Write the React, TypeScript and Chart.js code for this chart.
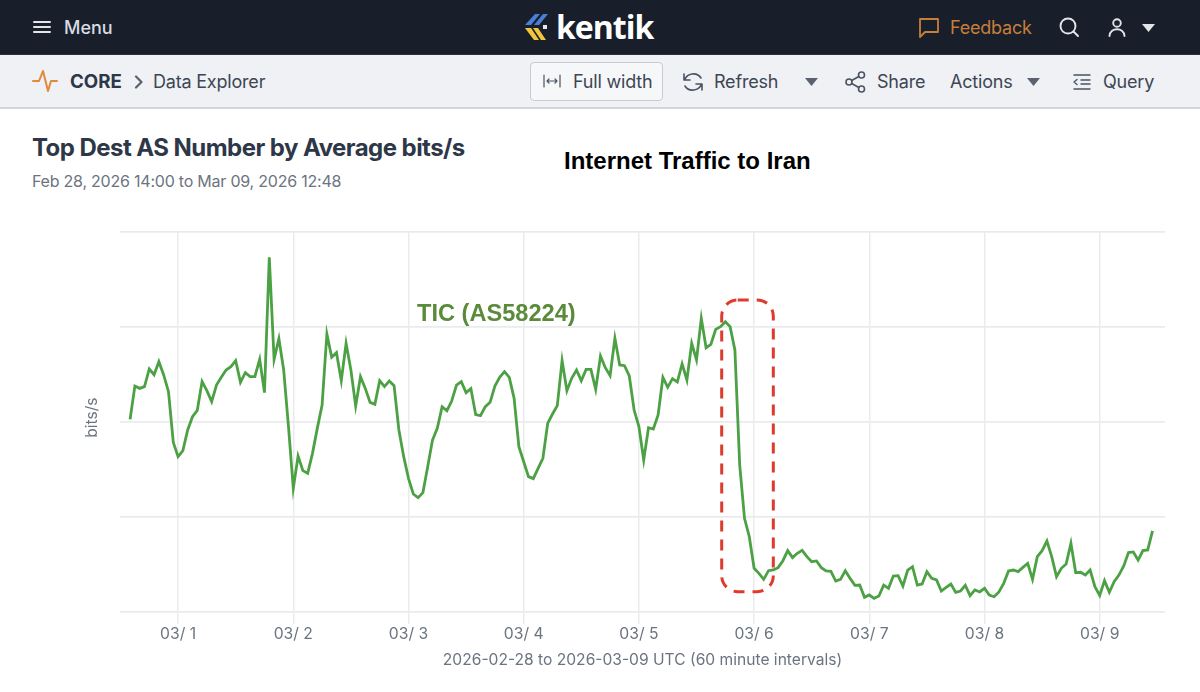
import React, { useEffect, useRef } from "react";
import { Chart, registerables } from "chart.js";

Chart.register(...registerables);

// hourly samples, first one at Feb 28 14:00 (10 hours before 03/ 1). the y axis has no
// labels in the screenshot so these are in grid units: one grid step = 100
const firstHour = -10;
const trafficValues = [
  202.8, 237.9, 235.4, 237.2, 255.8, 249.8, 263.5, 249.5, 231.9, 178.6,
  163.5, 169.8, 191.6, 205.6, 212.3, 242.5, 233, 221.4, 238.9, 247,
  254.7, 258.2, 264.6, 241.8, 251.9, 247.7, 247.7, 266, 230.9, 373.3,
  266, 287.7, 254.7, 195.1, 130.2, 164.2, 148.8, 146, 167, 193.3,
  217.9, 292.6, 268.1, 273, 243.5, 282.8, 254.7, 216.8, 247.7, 235.4,
  220.7, 218.6, 243.5, 237.2, 243.2, 238.2, 191.6, 163.5, 140.7, 124.2,
  120.4, 125.6, 153, 181, 193.3, 216.1, 211.9, 222.1, 238.9, 242.5,
  230.9, 235.1, 207.7, 206.7, 216.1, 220.7, 237.9, 247, 253, 247,
  224.9, 174, 158.2, 142.5, 140.4, 151.2, 161.8, 198.6, 208.4, 217.2,
  264.6, 233, 246, 254.7, 243.5, 255.4, 255.4, 234.4, 269.5, 257.2,
  248.8, 288.1, 260, 259.3, 248.4, 212.6, 195.1, 160, 194, 192.6,
  207.4, 247, 236.5, 245.6, 242.1, 261.1, 244.2, 282.8, 265.3, 309.1,
  278.2, 281.8, 297.5, 300.4, 305.6, 300.4, 275.8, 154.7, 98.6, 79.3,
  46, 40.7, 34.4, 43.5, 44.2, 46.7, 54, 64.6, 57.2, 61.8,
  64.9, 58.2, 53, 53.7, 46.7, 43.2, 42.8, 32.6, 34.4, 43.5,
  35.4, 28.1, 28.4, 15.4, 17.9, 14.4, 16.8, 28.4, 24.9, 37.9,
  38.2, 27.4, 44.2, 47.7, 28.4, 29.5, 42.5, 35.4, 33.7, 22.1,
  26, 29.5, 20.7, 22.1, 28.1, 17.2, 23.2, 21.1, 24.9, 17.9,
  16.1, 21.1, 30.2, 43.2, 44.2, 42.5, 47, 51.2, 34.4, 58.2,
  64.6, 74.7, 58.2, 37.2, 46, 50.5, 72.3, 41.4, 41.8, 38.9,
  44.2, 26.7, 17.5, 33, 20.7, 31.9, 38.9, 48.4, 62.5, 63.2,
  54.7, 64.6, 65.3, 85.3,
];
const tickHours = [0, 24, 48, 72, 96, 120, 144, 168, 192];
const tickLabels = ["03/ 1", "03/ 2", "03/ 3", "03/ 4", "03/ 5", "03/ 6", "03/ 7", "03/ 8", "03/ 9"];

const GREEN = "#4ca144";
const GRID = "#eaebed";
const UI_FONT = "Inter";

// red dashed box around the drop, in scale units
const highlightBox = { fromHour: 113.25, toHour: 124, top: 328.4, bottom: 21.4 };

const highlightPlugin = {
  id: "highlight",
  afterDatasetsDraw(chart: any) {
    const { ctx, scales } = chart;
    const x1 = scales.x.getPixelForValue(highlightBox.fromHour);
    const x2 = scales.x.getPixelForValue(highlightBox.toHour);
    const y1 = scales.y.getPixelForValue(highlightBox.top);
    const y2 = scales.y.getPixelForValue(highlightBox.bottom);
    ctx.save();
    ctx.strokeStyle = "#de3b2e";
    ctx.lineWidth = 3;
    ctx.setLineDash([11, 8]);
    ctx.beginPath();
    ctx.roundRect(x1, y1, x2 - x1, y2 - y1, 16);
    ctx.stroke();
    ctx.restore();
  },
};

function TrafficChart() {
  const ref = useRef<HTMLCanvasElement>(null);

  useEffect(() => {
    if (!ref.current) return;
    const chart = new Chart(ref.current, {
      type: "line",
      data: {
        datasets: [
          {
            label: "TIC (AS58224)",
            data: trafficValues.map((y, i) => ({ x: firstHour + i, y })),
            borderColor: GREEN,
            borderWidth: 2.8,
            pointRadius: 0,
            tension: 0,
            fill: false,
          },
        ],
      },
      options: {
        animation: false,
        responsive: false,
        layout: { padding: { left: 80, right: 35, top: 32, bottom: 0 } },
        plugins: { legend: { display: false }, tooltip: { enabled: false } },
        scales: {
          x: {
            type: "linear",
            min: -12.1,
            max: 205.6,
            afterBuildTicks: (scale: any) => {
              scale.ticks = tickHours.map((value) => ({ value }));
            },
            afterFit: (scale: any) => {
              scale.height = 80;
            },
            grid: { color: GRID, lineWidth: 1.5, tickLength: 12 },
            border: { display: false },
            ticks: {
              autoSkip: false,
              maxRotation: 0,
              padding: 1,
              color: "#6b7480",
              font: { family: UI_FONT, size: 15.7 },
              callback: (value: any) => tickLabels[tickHours.indexOf(value)],
            },
            title: {
              display: true,
              text: "2026-02-28 to 2026-03-09 UTC (60 minute intervals)",
              color: "#6b7480",
              font: { family: UI_FONT, size: 15.6 },
              padding: { top: 0, bottom: 22 },
            },
          },
          y: {
            min: 0,
            max: 400,
            afterFit: (scale: any) => {
              scale.width = 40;
            },
            grid: { color: GRID, lineWidth: 1.8, drawTicks: false },
            border: { display: false },
            ticks: { display: false, stepSize: 100 },
            title: {
              display: true,
              // leading spaces lift the label a few px above the axis centre, as in the screenshot
              text: "  bits/s",
              color: "#6b7480",
              font: { family: UI_FONT, size: 15.5 },
              padding: { top: 3, bottom: 0 },
            },
          },
        },
      },
      plugins: [highlightPlugin],
    });
    return () => chart.destroy();
  }, []);

  return (
    <canvas
      ref={ref}
      width={1200}
      height={492}
      style={{ position: "absolute", left: 0, top: 200, width: 1200, height: 492 }}
    />
  );
}

function Label(props: { x: number; y: number; size?: number; color?: string; weight?: number; font?: string; ls?: number; children: string }) {
  const { x, y, size = 18, color = "#3d4653", weight = 400, font = UI_FONT, ls = -0.2, children } = props;
  return (
    <div
      style={{
        position: "absolute",
        left: x,
        top: y - 15,
        height: 30,
        lineHeight: "30px",
        fontFamily: font,
        fontSize: size,
        fontWeight: weight,
        letterSpacing: ls,
        color,
        whiteSpace: "nowrap",
      }}
    >
      {children}
    </div>
  );
}

function Icon(props: { x: number; y: number; w: number; h: number; color?: string; sw?: number; children: React.ReactNode }) {
  const { x, y, w, h, color = "#4a5360", sw = 1.6, children } = props;
  return (
    <svg
      width={w}
      height={h}
      viewBox={`0 0 ${w} ${h}`}
      fill="none"
      stroke={color}
      strokeWidth={sw}
      strokeLinecap="round"
      strokeLinejoin="round"
      style={{ position: "absolute", left: x, top: y }}
    >
      {children}
    </svg>
  );
}

function Caret(props: { x: number; y: number; color: string }) {
  return (
    <svg width={13} height={8} style={{ position: "absolute", left: props.x, top: props.y }}>
      <path d="M0 0 H13 L6.5 8 Z" fill={props.color} />
    </svg>
  );
}

export default function App() {
  return (
    <div style={{ position: "absolute", left: 0, top: 0, width: 1200, height: 692, overflow: "hidden", background: "#fff" }}>
      {/* top nav */}
      <div style={{ position: "absolute", left: 0, top: 0, width: 1200, height: 54, background: "#181f2b" }} />
      <Icon x={33} y={20} w={18} h={14} color="#e2e4e8" sw={2}>
        <path d="M1 2 H17 M1 7 H17 M1 12 H17" />
      </Icon>
      <Label x={64} y={28} color="#d8dbe0" weight={500} ls={0}>Menu</Label>
      <svg width={26} height={28} style={{ position: "absolute", left: 524, top: 13 }}>
        <path d="M11 1 H16 L7 12 H1 Z M19 1 H24 L15 12 H10 Z" fill="#4a7fd6" />
        <path d="M1 15 H7 L15 27 H10 Z M9 15 H14 L22 27 H17 Z" fill="#f2c53d" />
        <rect x="19" y="12" width="4" height="4" fill="#e8e8e8" />
      </svg>
      <Label x={556} y={27} size={32} color="#ffffff" weight={700} font="Open Sans" ls={-1}>kentik</Label>
      <Icon x={918} y={17} w={22} h={22} color="#c77e3a" sw={1.8}>
        <path d="M2 2 H20 V15 H7 L2 20 Z" />
      </Icon>
      <Label x={950} y={28} color="#c77e3a">Feedback</Label>
      <Icon x={1059} y={17} w={21} h={21} color="#e2e4e8" sw={1.9}>
        <circle cx="9" cy="9" r="7.5" />
        <path d="M14.5 14.5 L19 19" />
      </Icon>
      <Icon x={1107} y={17} w={20} h={21} color="#e2e4e8" sw={1.9}>
        <circle cx="10" cy="6" r="3.8" />
        <path d="M2.5 19 C2.5 10 17.5 10 17.5 19" />
      </Icon>
      <Caret x={1142} y={24} color="#e2e4e8" />

      {/* sub nav */}
      <div style={{ position: "absolute", left: 0, top: 54, width: 1200, height: 55, boxSizing: "border-box", background: "#eff1f5", borderTop: "1px solid #2a3038", borderBottom: "2px solid #d3d6da" }} />
      <Icon x={32} y={69} w={26} h={26} color="#e08a3c" sw={2}>
        <path d="M1 12 H7 L11 2 L16 22 L19 12 H25" />
      </Icon>
      <Label x={70} y={82} color="#2d3748" weight={700} size={18.7} ls={0}>CORE</Label>
      <Icon x={134} y={75} w={9} h={14} color="#5a6270" sw={2.2}>
        <path d="M2 1.5 L7.5 7 L2 12.5" />
      </Icon>
      <Label x={153} y={82}>Data Explorer</Label>

      <div style={{ position: "absolute", left: 530, top: 62, width: 133, height: 39, boxSizing: "border-box", background: "#f6f7f9", border: "1.5px solid #c8ccd1", borderRadius: 4 }} />
      <Icon x={543} y={73} w={18} h={16} sw={1.2}>
        <path d="M1 2 V14 M17 2 V14 M4 8 H14 M4 8 L6 6 M4 8 L6 10 M14 8 L12 6 M14 8 L12 10" />
      </Icon>
      <Label x={573} y={82}>Full width</Label>

      <Icon x={681} y={70} w={24} h={24}>
        <path d="M3 4 V10 H9 M3.5 10 C6 3 16 1.5 20 8 M21 20 V14 H15 M20.5 14 C18 21 8 22.5 4 16" />
      </Icon>
      <Label x={714} y={82}>Refresh</Label>
      <Caret x={805} y={78} color="#5a6270" />
      <Icon x={845} y={71} w={21} h={22}>
        <circle cx="4" cy="11" r="3" />
        <circle cx="16.5" cy="4" r="3" />
        <circle cx="16.5" cy="18" r="3" />
        <path d="M6.7 9.5 L13.8 5.5 M6.7 12.5 L13.8 16.5" />
      </Icon>
      <Label x={877} y={82}>Share</Label>
      <Label x={950} y={82}>Actions</Label>
      <Caret x={1027} y={78} color="#5a6270" />
      <Icon x={1072} y={73} w={20} h={18} sw={1.4}>
        <path d="M2 2 H18 M9 7 H18 M9 11 H18 M2 16 H18 M5 6.5 L2 9 L5 11.5" />
      </Icon>
      <Label x={1103} y={82}>Query</Label>

      {/* headings */}
      <Label x={32} y={148} size={24} color="#2d3748" weight={700} ls={-0.55}>Top Dest AS Number by Average bits/s</Label>
      <Label x={32} y={181} size={16} color="#6b7480" ls={-0.22}>Feb 28, 2026 14:00 to Mar 09, 2026 12:48</Label>

      <TrafficChart />

      <Label x={564} y={161} size={24} color="#000000" weight={700} font="Liberation Sans" ls={0}>Internet Traffic to Iran</Label>
      <Label x={417} y={313} size={23.6} color="#5a8a3a" weight={700} font="Liberation Sans" ls={0}>TIC (AS58224)</Label>
    </div>
  );
}
